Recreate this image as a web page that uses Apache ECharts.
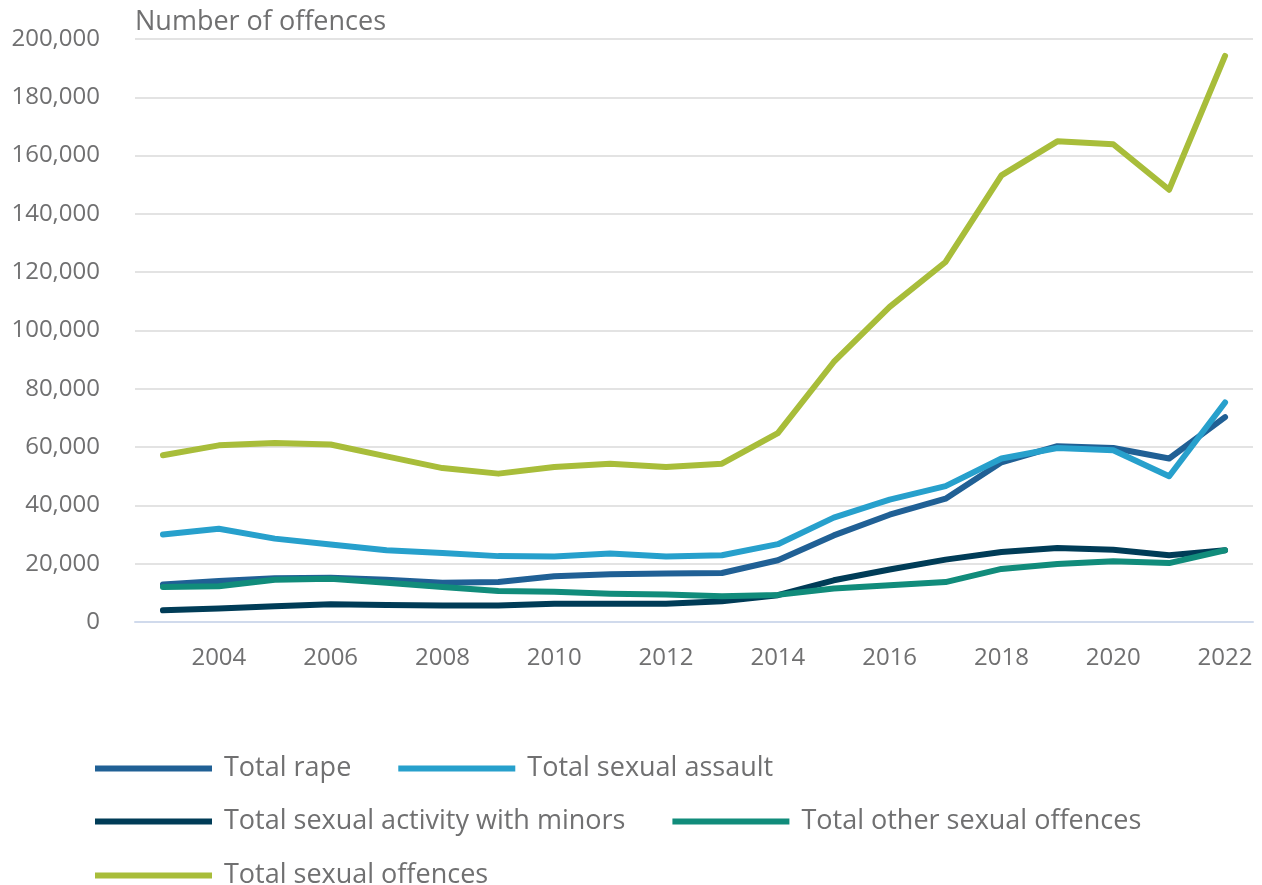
<!DOCTYPE html>
<html>
<head>
<meta charset="utf-8">
<title>Sexual offences recorded</title>
<script src="https://cdn.jsdelivr.net/npm/echarts@6/dist/echarts.min.js"></script>
<style>
  html, body { margin: 0; padding: 0; background: #ffffff; }
  #chart { width: 1262px; height: 885px; }
</style>
</head>
<body>
<div id="chart"></div>
<script>
// Years on the horizontal axis
const years = ['2003','2004','2005','2006','2007','2008','2009','2010','2011','2012',
               '2013','2014','2015','2016','2017','2018','2019','2020','2021','2022'];

// Offences recorded per year, by offence group
const totalRape = [12900,14100,15000,15200,14500,13500,13700,15700,16400,16600,
                   16800,21200,29700,36800,42300,54800,60300,59700,56100,70300];
const totalSexualAssault = [30000,32000,28600,26600,24600,23700,22600,22500,23500,22500,
                            22900,26700,35800,42000,46600,56100,59700,58900,50000,75300];
const totalActivityWithMinors = [4000,4600,5400,6100,5800,5700,5700,6300,6300,6300,
                                 7100,9200,14300,18000,21400,24000,25400,24800,22900,24600];
const totalOtherSexual = [12000,12300,14500,14800,13500,12000,10600,10400,9700,9400,
                          8800,9300,11500,12600,13700,18200,19900,20800,20200,24600];
const totalSexualOffences = [57200,60600,61400,60900,56800,52800,50900,53200,54300,53200,
                             54300,64800,89200,108100,123500,153200,164900,163900,148300,194200];

const seriesNames = ['Total rape', 'Total sexual assault', 'Total sexual activity with minors',
                     'Total other sexual offences', 'Total sexual offences'];
const seriesData = [totalRape, totalSexualAssault, totalActivityWithMinors, totalOtherSexual, totalSexualOffences];
const colors = ['#206095', '#27a0cc', '#003c57', '#118c7b', '#a8bd3a'];

const textColor = '#707071';
const fontFamily = '"Open Sans", sans-serif';

function legendRow(names, top) {
  return {
    data: names,
    left: 90,
    top: top,
    orient: 'horizontal',
    icon: 'rect',
    itemWidth: 117,
    itemHeight: 6,
    itemGap: 47,
    textStyle: { color: textColor, fontSize: 27, fontFamily: fontFamily, padding: [0, 0, 0, 7] }
  };
}

const chart = echarts.init(document.getElementById('chart'), null, { renderer: 'canvas' });
chart.setOption({
  animation: false,
  color: colors,
  grid: { left: 135, right: 9, top: 39, bottom: 263, containLabel: false, outerBoundsMode: 'none' },
  legend: [
    legendRow([seriesNames[0], seriesNames[1]], 750),
    legendRow([seriesNames[2], seriesNames[3]], 803),
    legendRow([seriesNames[4]], 857)
  ],
  xAxis: {
    type: 'category',
    data: years,
    boundaryGap: true,
    axisLine: { lineStyle: { color: '#d0daec', width: 2 } },
    axisTick: {
      alignWithLabel: true,
      interval: (i) => i % 2 === 1,
      length: 20,
      lineStyle: { color: '#d0daec', width: 2 }
    },
    axisLabel: {
      interval: (i) => i % 2 === 1,
      color: textColor,
      fontSize: 24,
      fontFamily: fontFamily,
      margin: 24
    }
  },
  yAxis: {
    type: 'value',
    min: 0,
    max: 200000,
    interval: 20000,
    name: 'Number of offences',
    nameLocation: 'end',
    nameGap: 3,
    nameTextStyle: { color: textColor, fontSize: 27, fontFamily: fontFamily, align: 'left' },
    axisLine: { show: false },
    axisTick: { show: false },
    axisLabel: {
      color: textColor,
      fontSize: 24,
      fontFamily: fontFamily,
      margin: 35,
      formatter: (v) => v.toLocaleString('en-GB')
    },
    splitLine: { lineStyle: { color: '#e3e3e3', width: 2 } }
  },
  series: seriesNames.map((name, i) => ({
    name: name,
    type: 'line',
    data: seriesData[i],
    symbol: 'none',
    lineStyle: { width: 6, color: colors[i], cap: 'round', join: 'round' },
    itemStyle: { color: colors[i] },
    emphasis: { disabled: true }
  }))
});
</script>
</body>
</html>
